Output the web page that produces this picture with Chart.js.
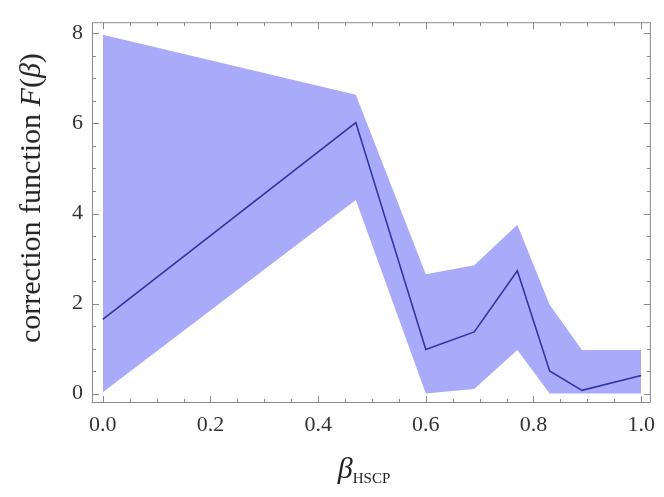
<!DOCTYPE html>
<html>
<head>
<meta charset="utf-8">
<script src="https://cdn.jsdelivr.net/npm/chart.js@4.4.1/dist/chart.umd.min.js"></script>
<style>
    body { margin: 0; background: #fff; }
    #wrap { position: relative; width: 664px; height: 497px; }
    #chart { position: absolute; left: 0; top: 0; }
    .title { position: absolute; font-family: "Liberation Serif", serif; color: #222; white-space: nowrap; }
    #xTitle { left: 364px; top: 470px; transform: translate(-50%, -50%); font-size: 30px; }
    #xTitle sub { font-size: 21px; font-variant: small-caps; vertical-align: -5px; }
    #yTitle { left: 30px; top: 198px; transform: translate(-50%, -50%) rotate(-90deg); font-size: 30px; }
</style>
</head>
<body>
<div id="wrap">
    <canvas id="chart" width="664" height="497"></canvas>
    <div class="title" id="xTitle"><i>β</i><sub>hscp</sub></div>
    <div class="title" id="yTitle">correction function <i>F</i>(<i>β</i>)</div>
</div>
<script>
// valores
const betaValues = [0.0, 0.47, 0.60, 0.69, 0.77, 0.83, 0.89, 1.0];
const centralF = [1.65, 6.02, 0.98, 1.37, 2.73, 0.50, 0.07, 0.40];
const upperF = [7.97, 6.64, 2.65, 2.85, 3.75, 1.97, 0.97, 0.97];
const lowerF = [0.03, 4.30, 0.00, 0.10, 0.97, 0.00, 0.00, 0.00];

const xTicks = [0.0, 0.2, 0.4, 0.6, 0.8, 1.0];
const yTicks = [0, 2, 4, 6, 8];

const toPoints = (ys) => betaValues.map((x, i) => ({ x: x, y: ys[i] }));

// moldura estilo Mathematica com ticks para dentro
const framePlugin = {
    id: 'frame',
    afterDatasetsDraw(chart) {
        const { ctx, chartArea: a, scales: { x, y } } = chart;
        ctx.save();
        ctx.strokeStyle = '#8a8a8a';
        ctx.lineWidth = 1;
        ctx.strokeRect(a.left + 0.5, a.top + 0.5, a.right - a.left - 1, a.bottom - a.top - 1);
        ctx.beginPath();
        for (let v = 0; v <= 1.0001; v += 0.05) {
            const px = Math.round(x.getPixelForValue(v)) + 0.5;
            const major = Math.abs(v * 5 - Math.round(v * 5)) < 1e-6;
            const len = major ? 7 : 4;
            ctx.moveTo(px, a.bottom); ctx.lineTo(px, a.bottom - len);
            ctx.moveTo(px, a.top); ctx.lineTo(px, a.top + len);
        }
        for (let v = 0; v <= 8.0001; v += 0.5) {
            const py = Math.round(y.getPixelForValue(v)) + 0.5;
            const major = Math.abs(v / 2 - Math.round(v / 2)) < 1e-6;
            const len = major ? 7 : 4;
            ctx.moveTo(a.left, py); ctx.lineTo(a.left + len, py);
            ctx.moveTo(a.right, py); ctx.lineTo(a.right - len, py);
        }
        ctx.stroke();
        ctx.restore();
    }
};

const tickFont = { family: 'Liberation Serif', size: 22 };

// o Chart.js desenha o dataset 0 por cima, por isso a linha vem primeiro
new Chart(document.getElementById('chart'), {
    type: 'line',
    data: {
        datasets: [
            {
                label: 'F',
                data: toPoints(centralF),
                borderColor: '#3333a3',
                borderWidth: 1.6,
                pointRadius: 0,
                fill: false
            },
            {
                label: 'lower',
                data: toPoints(lowerF),
                borderWidth: 0,
                pointRadius: 0,
                fill: false
            },
            {
                label: 'upper',
                data: toPoints(upperF),
                borderWidth: 0,
                pointRadius: 0,
                backgroundColor: 'rgb(170, 170, 250)',
                fill: '-1'
            }
        ]
    },
    options: {
        responsive: false,
        animation: false,
        layout: { padding: { top: 5, right: 5, left: 0, bottom: 0 } },
        plugins: {
            legend: { display: false },
            tooltip: { enabled: false }
        },
        scales: {
            x: {
                type: 'linear',
                min: -0.02,
                max: 1.018,
                grid: { display: false, drawTicks: false },
                border: { display: false },
                afterBuildTicks: (s) => { s.ticks = xTicks.map(v => ({ value: v })); },
                afterFit: (s) => { s.height = 94; },
                ticks: {
                    color: '#333',
                    font: tickFont,
                    padding: 9,
                    maxRotation: 0,
                    callback: (v) => v.toFixed(1)
                }
            },
            y: {
                type: 'linear',
                min: -0.21,
                max: 8.25,
                grid: { display: false, drawTicks: false },
                border: { display: false },
                afterBuildTicks: (s) => { s.ticks = yTicks.map(v => ({ value: v })); },
                afterFit: (s) => { s.width = 92; },
                ticks: {
                    color: '#333',
                    font: tickFont,
                    padding: 9,
                    callback: (v) => String(v)
                }
            }
        }
    },
    plugins: [framePlugin]
});
</script>
</body>
</html>
